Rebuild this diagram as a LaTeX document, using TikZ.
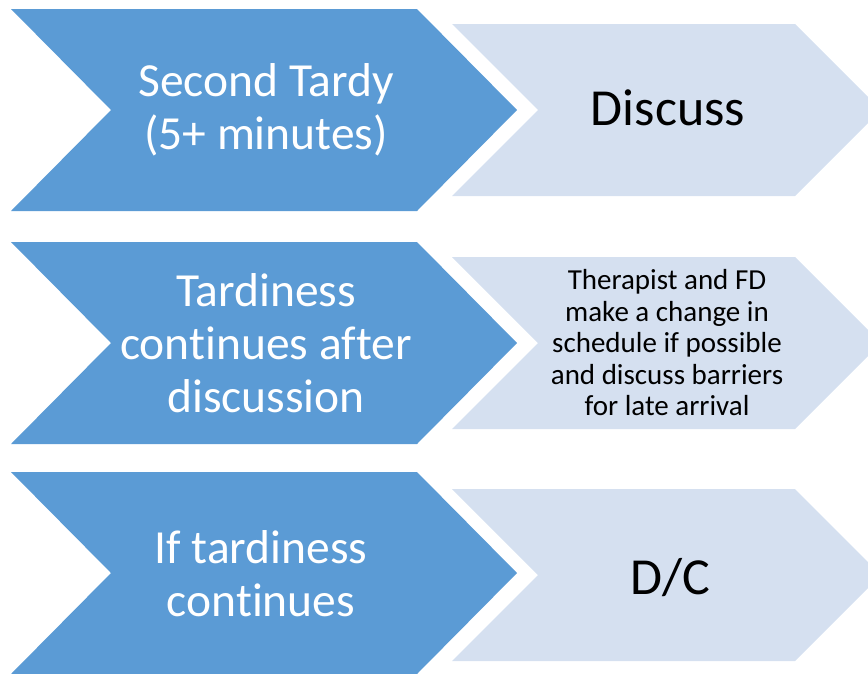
\documentclass[tikz,border=0pt]{standalone}
\usepackage{fontspec}
\setmainfont{Carlito}[Ligatures=NoCommon]
\definecolor{chevdark}{HTML}{5B9BD5}
\definecolor{chevlight}{HTML}{D5E0F0}

\begin{document}
\begin{tikzpicture}[x=1pt, y=-1pt,
    darkchev/.style={fill=chevdark},
    lightchev/.style={fill=chevlight},
    darktext/.style={text=white, align=center, font=\fontsize{47.5}{53}\selectfont},
    lighttext/.style={text=black, align=center, font=\fontsize{52}{60}\selectfont},
    smalltext/.style={text=black, align=center, font=\fontsize{29}{31.5}\selectfont}]
    % 1. Canvas
    \useasboundingbox (0,0) rectangle (868,673);
    \clip (0,0) rectangle (868,673);

    % 2. Dark chevrons (left column)
    \fill[darkchev] (11,9)   -- ++(406,0) -- ++(100,101) -- ++(-100,101) -- ++(-406,0) -- ++(100,-101) -- cycle;
    \fill[darkchev] (11,242) -- ++(406,0) -- ++(100,101) -- ++(-100,101) -- ++(-406,0) -- ++(100,-101) -- cycle;
    \fill[darkchev] (11,472) -- ++(406,0) -- ++(100,101) -- ++(-100,101) -- ++(-406,0) -- ++(100,-101) -- cycle;

    % 3. Light chevrons (right column)
    \fill[lightchev] (452,24)  -- ++(343,0) -- ++(86,86) -- ++(-86,86) -- ++(-343,0) -- ++(86,-86) -- cycle;
    \fill[lightchev] (452,257) -- ++(343,0) -- ++(86,86) -- ++(-86,86) -- ++(-343,0) -- ++(86,-86) -- cycle;
    \fill[lightchev] (452,489) -- ++(343,0) -- ++(86,86) -- ++(-86,86) -- ++(-343,0) -- ++(86,-86) -- cycle;

    % 4. Labels
    \node[darktext] (secondtardy) at (266,110) {Second Tardy\\(5+ minutes)};
    \node[darktext] (tardycont) at (266,343) {Tardiness\\continues after\\discussion};
    \node[darktext] (iftardy) at (261,574) {If tardiness\\continues};

    \node[lighttext] (discuss) at (668,108) {Discuss};
    \node[smalltext] (change) at (667,343) {Therapist and FD\\make a change in\\schedule if possible\\and discuss barriers\\for late arrival};
    \node[lighttext] (dc) at (670,578) {D/C};
\end{tikzpicture}
\end{document}
